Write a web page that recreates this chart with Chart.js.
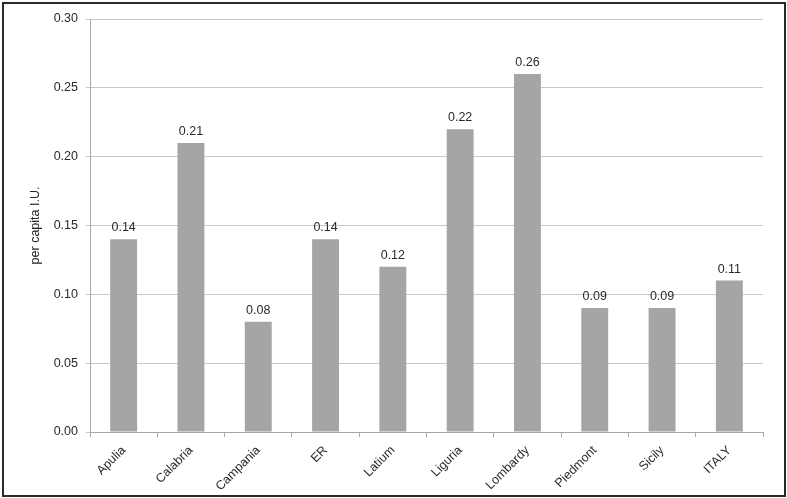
<!DOCTYPE html>
<html>
<head>
<meta charset="utf-8">
<script src="https://cdn.jsdelivr.net/npm/chart.js@4/dist/chart.umd.min.js"></script>
<style>
  html, body { margin: 0; padding: 0; background: #fff; }
  #wrap { width: 787px; height: 498px; position: relative; }
</style>
</head>
<body>
<div id="wrap"><canvas id="chartIU"></canvas></div>
<script>
// data
const regions = ['Apulia', 'Calabria', 'Campania', 'ER', 'Latium', 'Liguria', 'Lombardy', 'Piedmont', 'Sicily', 'ITALY'];
const perCapitaIU = [0.14, 0.21, 0.08, 0.14, 0.12, 0.22, 0.26, 0.09, 0.09, 0.11];
const yTicks = [0, 0.05, 0.10, 0.15, 0.20, 0.25, 0.30];

Chart.defaults.font.family = '"Liberation Sans", Arial, sans-serif';
Chart.defaults.font.size = 12;
Chart.defaults.color = '#333';

// frame round the whole picture
const framePlugin = {
  id: 'frame',
  beforeDraw(chart) {
    const c = chart.ctx;
    c.save();
    c.fillStyle = '#fff';
    c.fillRect(0, 0, chart.width, chart.height);
    c.strokeStyle = '#2a2a2a';
    c.lineWidth = 2;
    c.strokeRect(3, 3, chart.width - 5, chart.height - 5);
    c.restore();
  }
};

// value labels above bars
const valueLabels = {
  id: 'valueLabels',
  afterDatasetsDraw(chart) {
    const c = chart.ctx;
    const meta = chart.getDatasetMeta(0);
    c.save();
    c.font = '12.5px "Liberation Sans", Arial, sans-serif';
    c.fillStyle = '#2a2a2a';
    c.textAlign = 'center';
    c.textBaseline = 'bottom';
    meta.data.forEach((bar, i) => {
      c.fillText(perCapitaIU[i].toFixed(2), bar.x, bar.y - 5);
    });
    c.restore();
  }
};

const ctx = document.getElementById('chartIU').getContext('2d');
new Chart(ctx, {
  type: 'bar',
  data: {
    labels: regions,
    datasets: [{
      data: perCapitaIU,
      backgroundColor: '#a5a5a8',
      borderWidth: 0,
      barPercentage: 0.4,
      categoryPercentage: 1
    }]
  },
  options: {
    responsive: true,
    maintainAspectRatio: false,
    animation: false,
    layout: { padding: { left: 28, top: 19, right: 24, bottom: 0 } },
    plugins: {
      legend: { display: false },
      tooltip: { enabled: false }
    },
    scales: {
      x: {
        grid: { offset: true, drawOnChartArea: false, drawTicks: true, tickLength: 5, color: '#a8a8a8' },
        border: { color: '#a8a8a8' },
        ticks: { minRotation: 45, maxRotation: 45, padding: 6, color: '#2a2a2a', font: { size: 12.5 } },
        afterFit: s => { s.height = 66; }
      },
      y: {
        min: 0,
        max: 0.30,
        afterBuildTicks: s => { s.ticks = yTicks.map(v => ({ value: v })); },
        grid: { color: '#c8c8c8', tickLength: 4 },
        border: { color: '#a8a8a8' },
        ticks: { padding: 8, color: '#2a2a2a', font: { size: 12.5 }, callback: v => v.toFixed(2) },
        title: { display: true, text: 'per capita I.U.', color: '#222', font: { size: 12.5 }, padding: 0 },
        afterFit: s => { s.width = 62; }
      }
    }
  },
  plugins: [framePlugin, valueLabels]
});
</script>
</body>
</html>
